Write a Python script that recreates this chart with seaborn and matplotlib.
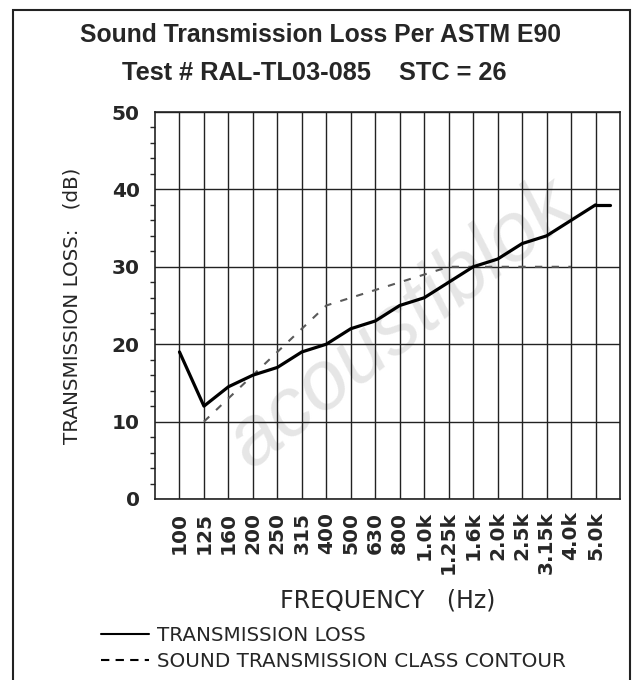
import pandas as pd
import numpy as np
import matplotlib.pyplot as plt
import seaborn as sns
from matplotlib.lines import Line2D
from matplotlib.patches import Rectangle
from matplotlib.ticker import MultipleLocator

# data
freqs = ['100', '125', '160', '200', '250', '315', '400', '500', '630',
         '800', '1.0k', '1.25k', '1.6k', '2.0k', '2.5k', '3.15k', '4.0k', '5.0k']
tl = [19, 12, 14.5, 16, 17, 19, 20, 22, 23, 25, 26, 28, 30, 31, 33, 34, 36, 38]
# STC 26 reference contour (125 Hz .. 4 kHz)
stc_freqs = ['125', '160', '200', '250', '315', '400', '500', '630',
             '800', '1.0k', '1.25k', '1.6k', '2.0k', '2.5k', '3.15k', '4.0k']
stc = [10, 13, 16, 19, 22, 25, 26, 27, 28, 29, 30, 30, 30, 30, 30, 30]

df_tl = pd.DataFrame({'freq': freqs, 'tl': tl})
df_tl['pos'] = np.arange(len(freqs))
df_stc = pd.DataFrame({'freq': stc_freqs, 'stc': stc})
df_stc['pos'] = [freqs.index(f) for f in stc_freqs]

sns.set_style('white')
plt.rcParams['font.family'] = ['DejaVu Sans']

fig = plt.figure(figsize=(6.41, 6.80), dpi=100)
ax = fig.add_axes([155/641, 1-499/680, 465/641, 387/680])

# faint watermark behind the data
ax.text(0.53, 0.45, 'acoustiblok', transform=ax.transAxes, rotation=38,
        fontsize=60, color='#e6e6e6', style='italic', ha='center', va='center',
        family='Liberation Sans', zorder=0)

sns.lineplot(data=df_stc, x='pos', y='stc', ax=ax, color='#5a5a5a', lw=1.5,
             zorder=3)
ax.lines[-1].set_dashes((3.5, 4.5))
sns.lineplot(data=df_tl, x='pos', y='tl', ax=ax, color='black', lw=2.3, zorder=4)
# short flat tail past the last band, as on the report
ax.plot([len(freqs) - 1, len(freqs) - 0.4], [tl[-1], tl[-1]], color='black',
        lw=2.3, zorder=4)

ax.set_xlim(-1, len(freqs))
ax.set_ylim(0, 50)
ax.set_xticks(np.arange(len(freqs)))
ax.set_xticklabels(freqs, rotation=90, fontsize=14.5, fontweight='bold')
ax.yaxis.set_major_locator(MultipleLocator(10))
ax.yaxis.set_minor_locator(MultipleLocator(2))
ax.tick_params(axis='y', which='major', labelsize=14.5, length=4, width=1,
               direction='out', pad=7)
ax.tick_params(axis='y', which='minor', length=3.5, width=1, direction='out', left=True)
ax.tick_params(axis='x', which='major', length=5, width=1, direction='out', pad=4)
for t in ax.get_yticklabels():
    t.set_fontweight('bold')
ax.grid(True, which='major', color='#222222', lw=1)
for s in ax.spines.values():
    s.set_color('#222222')
    s.set_linewidth(1.2)

ax.set_xlabel('FREQUENCY   (Hz)', fontsize=17, labelpad=10)
ax.set_ylabel('TRANSMISSION LOSS:   (dB)', fontsize=14.3, labelpad=22)

fig.text(321/641, 1-35/680, 'Sound Transmission Loss Per ASTM E90',
         ha='center', va='center', fontsize=17.8, fontweight='bold',
         family='Liberation Sans')
fig.text(314/641, 1-73/680, 'Test # RAL-TL03-085    STC = 26',
         ha='center', va='center', fontsize=18.3, fontweight='bold',
         family='Liberation Sans')

handles = [Line2D([], [], color='black', lw=1.5),
           Line2D([], [], color='black', lw=1.5, dashes=(4, 3))]
fig.legend(handles, ['TRANSMISSION LOSS', 'SOUND TRANSMISSION CLASS CONTOUR'],
           loc='upper left', bbox_to_anchor=(93/641, 1-618/680), frameon=False,
           fontsize=14.3, handlelength=2.4, handletextpad=0.4, labelspacing=0.35,
           borderaxespad=0)

fig.add_artist(Rectangle((13/641, -0.02), 617/641, 1.02 - 10/680,
                         transform=fig.transFigure, fill=False, lw=1.5,
                         edgecolor='#222222'))

fig.savefig('out.png', dpi=100)
